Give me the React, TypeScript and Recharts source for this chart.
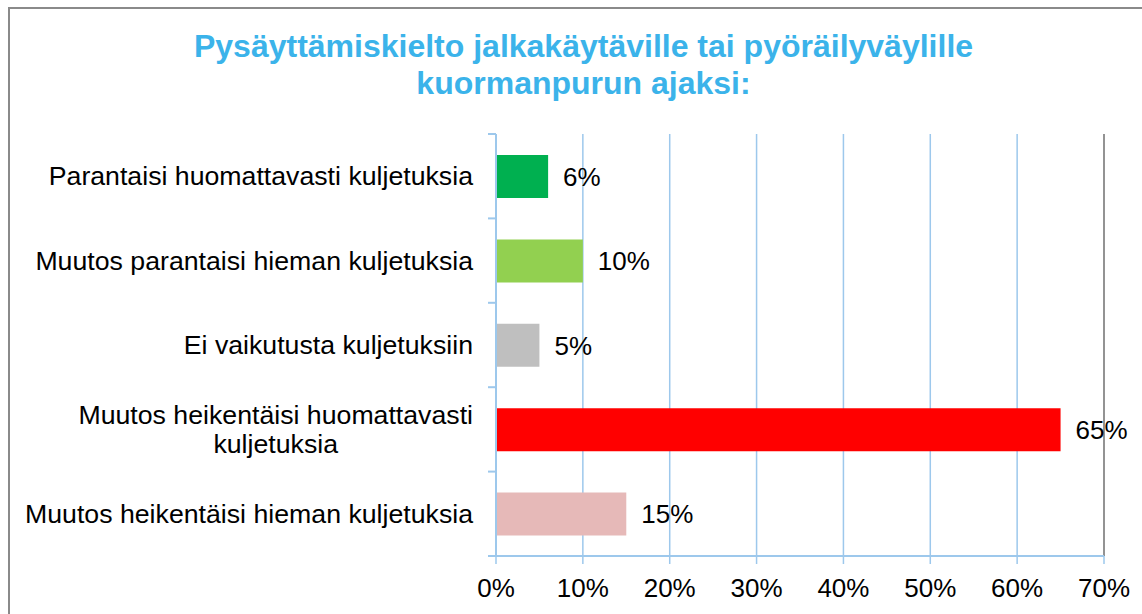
import React from "react";
import {
  BarChart,
  Bar,
  XAxis,
  YAxis,
  CartesianGrid,
  Cell,
  LabelList,
  ReferenceLine,
} from "recharts";

// answer options, top to bottom ("\n" marks where the label wraps)
const categories = [
  "Parantaisi huomattavasti kuljetuksia",
  "Muutos parantaisi hieman kuljetuksia",
  "Ei vaikutusta kuljetuksiin",
  "Muutos heikentäisi huomattavasti\nkuljetuksia",
  "Muutos heikentäisi hieman kuljetuksia",
];

// share of respondents, %
const shares = [6, 10, 5, 65, 15];

const barColors = ["#00B050", "#92D050", "#BFBFBF", "#FF0000", "#E6B9B8"];

const xTicks = [0, 10, 20, 30, 40, 50, 60, 70];

const titleLines = [
  "Pysäyttämiskielto jalkakäytäville tai pyöräilyväylille",
  "kuormanpurun ajaksi:",
];

const data = categories.map((name, i) => ({ name, value: shares[i] }));

const FONT = '"Liberation Sans", Arial, sans-serif';
const AXIS_BLUE = "#9DC8EC";
const FRAME_GRAY = "#939393";
const LABEL_SIZE = 26.7;

const W = 1142;
const H = 614;
const MARGIN = { top: 134, right: 38, bottom: 8, left: 0 };
const X_AXIS_H = 50;
const Y_AXIS_W = 496;
const LABEL_GAP = 23;
const PLOT_H = H - MARGIN.top - MARGIN.bottom - X_AXIS_H;
const BAND = PLOT_H / categories.length;

let measureCtx: CanvasRenderingContext2D | null = null;
function textWidth(s: string, size: number) {
  if (!measureCtx) {
    measureCtx = document.createElement("canvas").getContext("2d");
  }
  if (!measureCtx) return s.length * size * 0.5;
  measureCtx.font = size + "px " + FONT;
  return measureCtx.measureText(s).width;
}

function CategoryTick(props: any) {
  const { x, y, payload, index } = props;
  const lines = String(payload.value).split("\n");
  const axisX = x + LABEL_GAP;
  // Excel puts the tick marks between categories, pointing outwards
  const edges = [y - BAND / 2];
  if (index === categories.length - 1) edges.push(y + BAND / 2);
  const marks = edges.map((ey, i) => (
    <line key={"m" + i} x1={axisX - 8} x2={axisX} y1={ey} y2={ey} stroke={AXIS_BLUE} strokeWidth={2} />
  ));
  const widest = Math.max(...lines.map((l) => textWidth(l, LABEL_SIZE)));
  const single = lines.length === 1;
  const cx = single ? x : x - widest / 2;
  const lh = 29;
  return (
    <g>
      {marks}
      {lines.map((l, i) => (
        <text
          key={i}
          x={cx}
          y={y + (i - (lines.length - 1) / 2) * lh}
          textAnchor={single ? "end" : "middle"}
          dominantBaseline="central"
          fontSize={LABEL_SIZE}
          fill="#000"
          fontFamily={FONT}
        >
          {l}
        </text>
      ))}
    </g>
  );
}

export default function App() {
  return (
    <div
      style={{
        position: "absolute",
        left: 0,
        top: 0,
        width: W,
        height: H,
        overflow: "hidden",
        background: "#fff",
        fontFamily: FONT,
      }}
    >
      <div
        style={{
          position: "absolute",
          left: 8,
          top: 7,
          width: 1160,
          height: 640,
          border: "2px solid #8A8A8A",
          boxSizing: "border-box",
        }}
      />
      <div
        style={{
          position: "absolute",
          left: 0,
          top: 28,
          width: 1167,
          textAlign: "center",
          fontSize: 32,
          lineHeight: "37px",
          fontWeight: "bold",
          color: "#3BB3EA",
        }}
      >
        {titleLines.map((t, i) => (
          <div key={i}>{t}</div>
        ))}
      </div>
      <div style={{ position: "absolute", left: 0, top: 0 }}>
        <BarChart width={W} height={H} layout="vertical" data={data} margin={MARGIN}>
          <CartesianGrid horizontal={false} stroke={AXIS_BLUE} strokeWidth={1.5} />
          <XAxis
            type="number"
            domain={[0, 70]}
            ticks={xTicks}
            interval={0}
            height={X_AXIS_H}
            tickFormatter={(v) => v + "%"}
            axisLine={{ stroke: AXIS_BLUE, strokeWidth: 2 }}
            tickLine={{ stroke: AXIS_BLUE, strokeWidth: 1.5 }}
            tickSize={8}
            tickMargin={15}
            tick={{ fontSize: 26, fill: "#000", fontFamily: FONT }}
          />
          <XAxis
            xAxisId="frame"
            orientation="top"
            type="number"
            domain={[0, 70]}
            allowDataOverflow
            height={0}
            tick={false}
            tickLine={false}
            axisLine={{ stroke: FRAME_GRAY, strokeWidth: 2 }}
          />
          <YAxis
            type="category"
            dataKey="name"
            width={Y_AXIS_W}
            interval={0}
            tickSize={0}
            tickMargin={LABEL_GAP}
            tickLine={false}
            axisLine={{ stroke: AXIS_BLUE, strokeWidth: 2 }}
            tick={<CategoryTick />}
          />
          <ReferenceLine x={70} stroke={FRAME_GRAY} strokeWidth={2} />
          <Bar dataKey="value" barSize={43} isAnimationActive={false}>
            {data.map((_, i) => (
              <Cell key={"bar-" + i} fill={barColors[i]} />
            ))}
            <LabelList
              dataKey="value"
              position="right"
              offset={15}
              formatter={(v: any) => v + "%"}
              fill="#000"
              fontSize={26}
              fontFamily={FONT}
            />
          </Bar>
        </BarChart>
      </div>
    </div>
  );
}
